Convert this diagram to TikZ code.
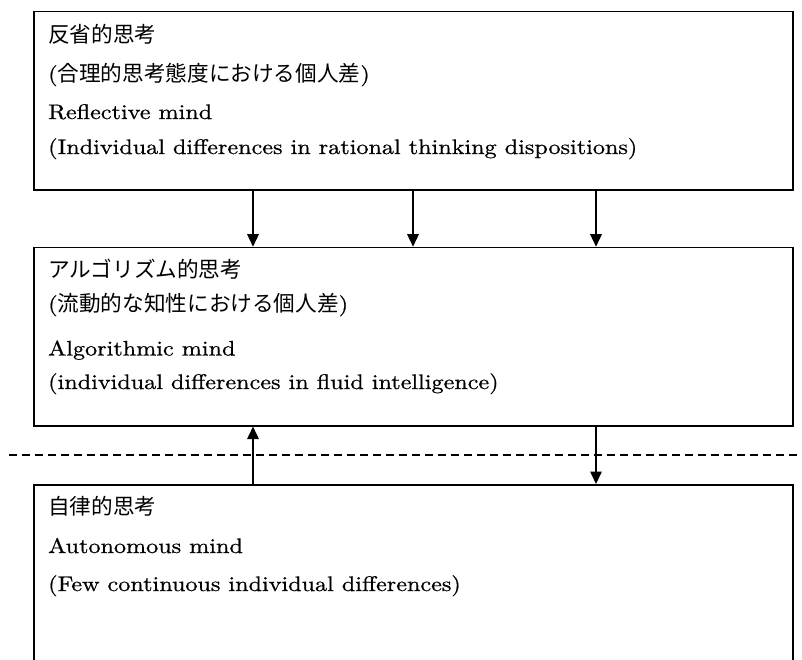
\documentclass[tikz,border=0pt]{standalone}
\usepackage{fontspec}
\setmainfont{lmroman10-regular.otf}[FakeStretch=1.15, FakeBold=0.7]
\newfontfamily\jp{Noto Sans CJK JP}[Scale=1.03]
\usetikzlibrary{arrows.meta}
\tikzset{
  box/.style={draw, line width=1.5pt, rectangle, anchor=north west, minimum width=759pt, inner sep=0pt},
  txt/.style={anchor=base west, inner sep=0pt, font=\fontsize{21}{25}\selectfont},
  arr/.style={line width=1.5pt, -{Triangle[width=11.5pt,length=12.5pt]}},
  sep/.style={line width=1.1pt, dash pattern=on 8pt off 5pt}
}
\begin{document}
\begin{tikzpicture}[x=1pt,y=-1pt]
\clip (0,0) rectangle (802,659);
\fill[white] (0,0) rectangle (802,659);
% boxes
\node[box, minimum height=178.3pt] (b1) at (33,10.7) {};
\node[box, minimum height=178.3pt] (b2) at (33,246.7) {};
\node[box, minimum height=230pt] (b3) at (33,484) {};
% texts box 1
\node[txt] (t11) at (48,42) {\jp 反省的思考};
\node[txt] (t12) at (48,81) {(\jp 合理的思考態度における個人差\rmfamily)};
\node[txt] (t13) at (48,119) {Reflective mind};
\node[txt] (t14) at (48,154) {(Individual differences in rational thinking dispositions)};
% texts box 2
\node[txt] (t21) at (48,277) {\jp アルゴリズム的思考};
\node[txt] (t22) at (48,311) {(\jp 流動的な知性における個人差\rmfamily)};
\node[txt] (t23) at (48,355.5) {Algorithmic mind};
\node[txt] (t24) at (48,389) {(individual differences in fluid intelligence)};
% texts box 3
\node[txt] (t31) at (48,514) {\jp 自律的思考};
\node[txt] (t32) at (48,553) {Autonomous mind};
\node[txt] (t33) at (48,591) {(Few continuous individual differences)};
% dashed separator
\coordinate (dl) at (9,455);
\coordinate (dr) at (802,455);
\draw[sep] (dl) -- (dr);
% arrow columns
\coordinate (xa) at (253,0);
\coordinate (xb) at (413,0);
\coordinate (xc) at (596,0);
\draw[arr] (b1.south -| xa) -- (b2.north -| xa);
\draw[arr] (b1.south -| xb) -- (b2.north -| xb);
\draw[arr] (b1.south -| xc) -- (b2.north -| xc);
\draw[arr] (b3.north -| xa) -- (b2.south -| xa);
\draw[arr] (b2.south -| xc) -- (b3.north -| xc);
\end{tikzpicture}
\end{document}
